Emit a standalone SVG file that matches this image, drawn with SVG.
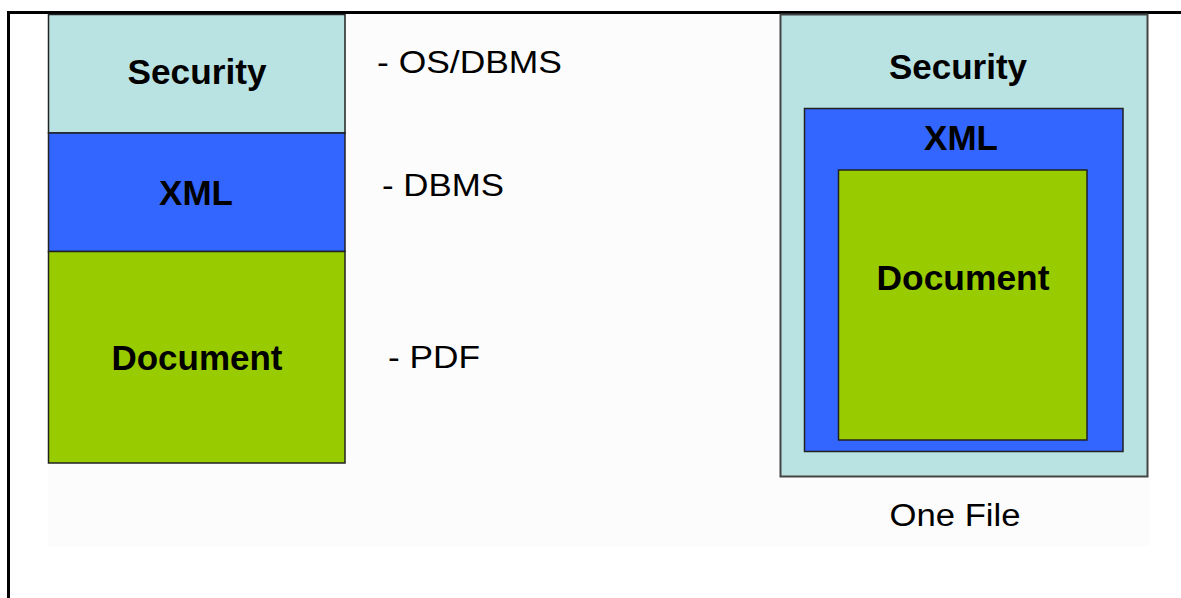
<svg xmlns="http://www.w3.org/2000/svg" width="1181" height="598" viewBox="0 0 1181 598">
<style>
.box{stroke:#222;stroke-width:1.5}
.sec{fill:#b9e2e2}
.xml{fill:#3366ff}
.doc{fill:#99cc00}
.lbl{font-family:"Liberation Sans",Arial,sans-serif;font-weight:bold;font-size:35px;fill:#000;text-anchor:middle}
.note{font-family:"Liberation Sans",Arial,sans-serif;font-size:31px;fill:#000}
</style>
<rect x="0" y="0" width="1181" height="598" fill="#ffffff"/>
<rect x="48" y="14" width="1102" height="532" fill="#fcfcfc"/>
<g id="frame">
<line x1="7" y1="12.5" x2="1181" y2="12.5" stroke="#000" stroke-width="3"/>
<line x1="8.5" y1="11" x2="8.5" y2="598" stroke="#000" stroke-width="3"/>
</g>
<g id="left-security">
<rect class="box sec" x="48.5" y="14.5" width="296.5" height="118.5"/>
<text class="lbl" x="197" y="84" textLength="139" lengthAdjust="spacingAndGlyphs">Security</text>
</g>
<g id="left-xml">
<rect class="box xml" x="48.5" y="133" width="296.5" height="118.5"/>
<text class="lbl" x="196" y="205">XML</text>
</g>
<g id="left-document">
<rect class="box doc" x="48.5" y="251.5" width="296.5" height="211.5"/>
<text class="lbl" x="197" y="370" textLength="171" lengthAdjust="spacingAndGlyphs">Document</text>
</g>
<g id="notes">
<text class="note" x="377" y="73" textLength="185" lengthAdjust="spacingAndGlyphs">- OS/DBMS</text>
<text class="note" x="382" y="196" textLength="122" lengthAdjust="spacingAndGlyphs">- DBMS</text>
<text class="note" x="388" y="368" textLength="92" lengthAdjust="spacingAndGlyphs">- PDF</text>
</g>
<g id="right-security">
<rect class="sec" x="780.5" y="14.5" width="367" height="462" stroke="#444" stroke-width="2"/>
<text class="lbl" x="958" y="79" textLength="138" lengthAdjust="spacingAndGlyphs">Security</text>
</g>
<g id="right-xml">
<rect class="box xml" x="804.5" y="108.5" width="318.5" height="343"/>
<text class="lbl" x="961" y="150">XML</text>
</g>
<g id="right-document">
<rect class="box doc" x="838.5" y="170" width="248.5" height="270"/>
<text class="lbl" x="963" y="290" textLength="173" lengthAdjust="spacingAndGlyphs">Document</text>
</g>
<g id="caption">
<text class="note" x="955" y="526" text-anchor="middle" textLength="131" lengthAdjust="spacingAndGlyphs">One File</text>
</g>
<g id="connectors"></g>
</svg>
